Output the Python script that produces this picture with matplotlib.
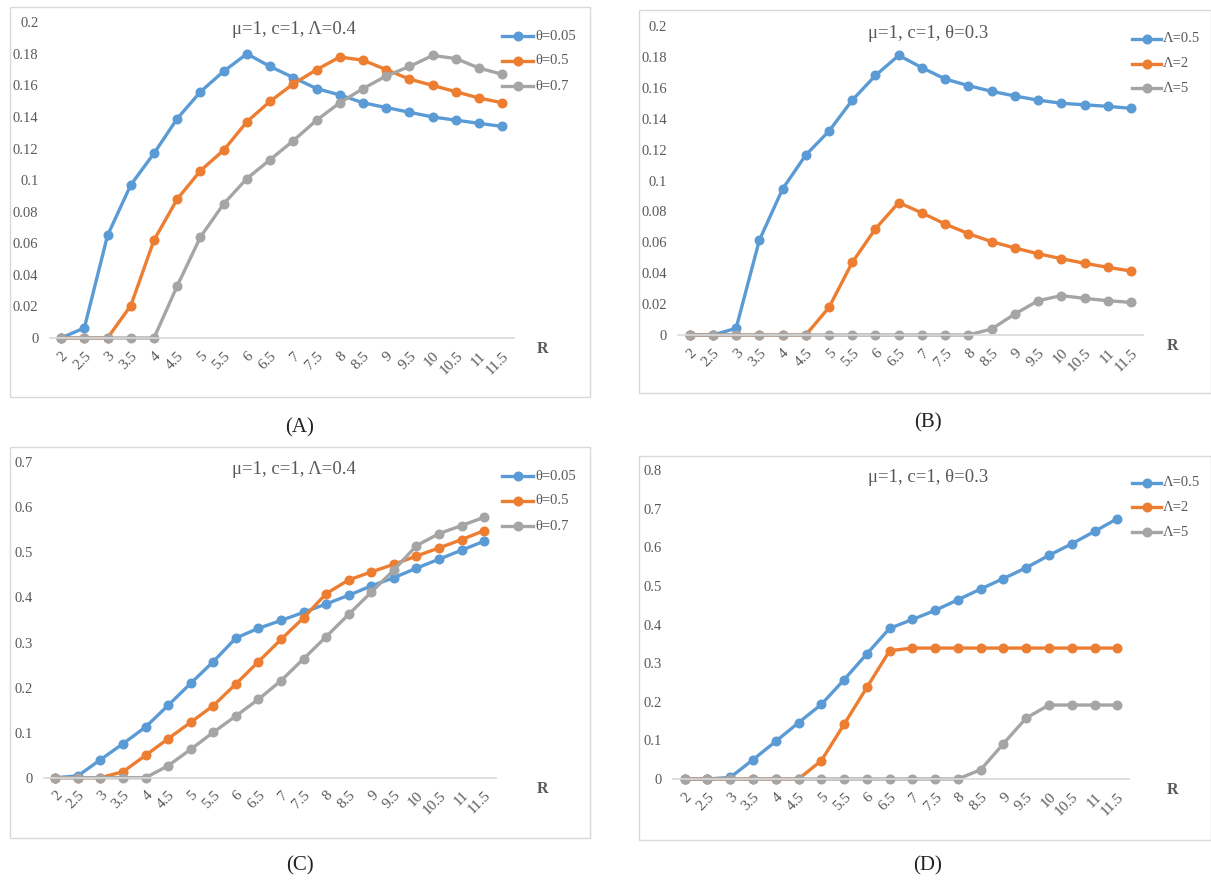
import numpy as np
import matplotlib.pyplot as plt
from matplotlib.patches import Rectangle

# R values on the category axis
R = ["2", "2.5", "3", "3.5", "4", "4.5", "5", "5.5", "6", "6.5",
     "7", "7.5", "8", "8.5", "9", "9.5", "10", "10.5", "11", "11.5"]

# (A) mu=1, c=1, Lambda=0.4
a_theta005 = [0, 0.0064, 0.065, 0.097, 0.117, 0.139, 0.156, 0.169, 0.180, 0.172,
              0.165, 0.158, 0.154, 0.149, 0.146, 0.143, 0.140, 0.138, 0.136, 0.134]
a_theta05 = [0, 0, 0, 0.0205, 0.062, 0.088, 0.106, 0.119, 0.137, 0.150,
             0.161, 0.170, 0.178, 0.176, 0.170, 0.164, 0.160, 0.156, 0.152, 0.149]
a_theta07 = [0, 0, 0, 0, 0, 0.033, 0.064, 0.085, 0.101, 0.113,
             0.125, 0.138, 0.149, 0.158, 0.166, 0.172, 0.179, 0.177, 0.171, 0.167]

# (B) mu=1, c=1, theta=0.3
b_lam05 = [0, 0, 0.0043, 0.0613, 0.0945, 0.1165, 0.132, 0.152, 0.168, 0.181,
           0.173, 0.1657, 0.1614, 0.1577, 0.1547, 0.152, 0.150, 0.149, 0.148, 0.1467]
b_lam2 = [0, 0, 0, 0, 0, 0, 0.0179, 0.047, 0.0688, 0.0857,
          0.079, 0.0718, 0.0656, 0.0604, 0.0563, 0.0526, 0.0494, 0.0464, 0.0438, 0.0414]
b_lam5 = [0, 0, 0, 0, 0, 0, 0, 0, 0, 0,
          0, 0, 0, 0.0039, 0.0136, 0.0222, 0.0255, 0.0237, 0.0222, 0.0211]

# (C) mu=1, c=1, Lambda=0.4
c_theta005 = [0, 0.004, 0.040, 0.0755, 0.1125, 0.1606, 0.2095, 0.2576, 0.310, 0.3316,
              0.349, 0.367, 0.3856, 0.405, 0.4256, 0.444, 0.465, 0.485, 0.505, 0.525]
c_theta05 = [0, 0, 0, 0.0133, 0.0496, 0.0866, 0.123, 0.160, 0.208, 0.2576,
             0.307, 0.355, 0.4086, 0.439, 0.4567, 0.4737, 0.492, 0.510, 0.5285, 0.5485]
c_theta07 = [0, 0, 0, 0, 0, 0.0266, 0.063, 0.1007, 0.137, 0.174,
             0.2154, 0.264, 0.313, 0.3627, 0.412, 0.461, 0.515, 0.5418, 0.5596, 0.578]

# (D) mu=1, c=1, theta=0.3
d_lam05 = [0, 0, 0.004, 0.050, 0.0975, 0.1458, 0.193, 0.257, 0.324, 0.390,
           0.413, 0.4366, 0.464, 0.492, 0.519, 0.547, 0.579, 0.609, 0.641, 0.674]
d_lam2 = [0, 0, 0, 0, 0, 0, 0.0475, 0.1415, 0.237, 0.332,
          0.339, 0.339, 0.339, 0.339, 0.339, 0.339, 0.339, 0.339, 0.339, 0.339]
d_lam5 = [0, 0, 0, 0, 0, 0, 0, 0, 0, 0,
          0, 0, 0, 0.024, 0.0915, 0.158, 0.1915, 0.1915, 0.1915, 0.1915]

theta_labels = ["θ=0.05", "θ=0.5", "θ=0.7"]
lam_labels = ["Λ=0.5", "Λ=2", "Λ=5"]
colors = ["#5B9BD5", "#ED7D31", "#A5A5A5"]
txt = "#595959"
serif = ["Liberation Serif", "DejaVu Serif"]

W, H = 1211, 884
fig = plt.figure(figsize=(W / 100, H / 100), dpi=100)
fig.patch.set_facecolor("white")


def px(x0, y0, x1, y1):
    # pixel box (top-left origin) -> figure fraction rect
    return [x0 / W, 1 - y1 / H, (x1 - x0) / W, (y1 - y0) / H]


def panel(box, area, ymax, ystep, title, title_xy, series, labels, leg, r_xy, tag, tag_xy):
    bx0, by0, bx1, by1 = box
    fig.patches.append(Rectangle((bx0 / W, 1 - by1 / H), (bx1 - bx0) / W, (by1 - by0) / H,
                                 transform=fig.transFigure, fill=False,
                                 edgecolor="#d9d9d9", lw=1.0))
    ax = fig.add_axes(px(*area))
    ax.set_facecolor("none")
    x = np.arange(len(R))
    for vals, col in zip(series, colors):
        ax.plot(x, vals, color=col, lw=2.4, marker="o", ms=6.2, clip_on=False)
    ax.set_xlim(-0.5, len(R) - 0.5)
    ax.set_ylim(0, ymax)
    for s in ["top", "right", "left"]:
        ax.spines[s].set_visible(False)
    ax.spines["bottom"].set_color("#d9d9d9")
    ax.spines["bottom"].set_linewidth(1.2)
    ax.set_xticks(x)
    ax.set_xticklabels(R, rotation=45, ha="right", va="top", rotation_mode="anchor",
                       family=serif, fontsize=11, color=txt)
    ax.tick_params(axis="x", length=0, pad=8)
    yt = np.round(np.arange(0, ymax + ystep / 2, ystep), 3)
    ax.set_yticks(yt)
    ax.set_yticklabels(["%g" % v for v in yt], family=serif, fontsize=10.5, color=txt)
    ax.tick_params(axis="y", length=0, pad=8)

    fig.text(title_xy[0] / W, 1 - title_xy[1] / H, title, ha="center", va="center",
             family=serif, fontsize=13.5, color=txt)
    lx0, lx1, ly, dy = leg
    for i, (lab, col) in enumerate(zip(labels, colors)):
        yy = 1 - (ly + i * dy) / H
        fig.add_artist(plt.Line2D([lx0 / W, lx1 / W], [yy, yy], color=col, lw=2.4,
                                  transform=fig.transFigure))
        fig.add_artist(plt.Line2D([(lx0 + lx1) / 2 / W], [yy], color=col, marker="o",
                                  ms=6.2, transform=fig.transFigure))
        fig.text((lx1 + 2) / W, yy, lab, ha="left", va="center",
                 family=serif, fontsize=10.5, color=txt)
    fig.text(r_xy[0] / W, 1 - r_xy[1] / H, "R", ha="center", va="center",
             family=serif, fontsize=11.5, fontweight="bold", color=txt)
    fig.text(tag_xy[0] / W, 1 - tag_xy[1] / H, tag, ha="center", va="center",
             family=serif, fontsize=15, color="#222222")
    return ax


panel((10, 7, 590, 397), (49.5, 22.3, 514, 338), 0.2, 0.02, "μ=1, c=1, Λ=0.4", (294, 30),
      [a_theta005, a_theta05, a_theta07], theta_labels, (502, 533, 36, 25), (542, 349),
      "(A)", (300, 428))
panel((639, 10, 1211, 393), (678, 26, 1142.7, 335), 0.2, 0.02, "μ=1, c=1, θ=0.3", (928, 34),
      [b_lam05, b_lam2, b_lam5], lam_labels, (1132, 1161, 39, 24.5), (1172, 346),
      "(B)", (928, 423))
panel((10, 447, 590, 838), (44, 462.3, 495.5, 777.7), 0.7, 0.1, "μ=1, c=1, Λ=0.4", (294, 470),
      [c_theta005, c_theta05, c_theta07], theta_labels, (502, 533, 476, 25), (542, 789),
      "(C)", (300, 866))
panel((639, 456, 1211, 840), (673.3, 470, 1128.7, 779), 0.8, 0.1, "μ=1, c=1, θ=0.3", (928, 478),
      [d_lam05, d_lam2, d_lam5], lam_labels, (1132, 1161, 483, 24.5), (1172, 790),
      "(D)", (928, 866))

fig.savefig("out.png", dpi=100, facecolor="white")
